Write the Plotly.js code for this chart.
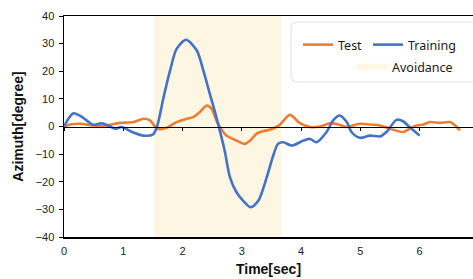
<!DOCTYPE html>
<html>
<head>
<meta charset="utf-8">
<script src="https://cdn.plot.ly/plotly-3.0.1.min.js"></script>
<style>html,body{margin:0;padding:0;background:#fff;}#chart{width:473px;height:279px;}</style>
</head>
<body>
<div id="chart"></div>
<script>
// ---- data ----
const trainingTime = [0, 0.08, 0.16, 0.3, 0.49, 0.64, 0.78, 0.86, 0.97, 1.15, 1.34, 1.5, 1.57, 1.68, 1.79, 1.9, 2.06, 2.24, 2.35, 2.46, 2.57, 2.71, 2.8, 2.91, 3.02, 3.15, 3.28, 3.42, 3.53, 3.61, 3.7, 3.84, 4.04, 4.15, 4.26, 4.43, 4.54, 4.65, 4.77, 4.85, 4.99, 5.16, 5.33, 5.44, 5.61, 5.72, 5.83, 6.0];
const trainingAzimuth = [0, 3, 4.8, 3.5, 0.6, 1.2, 0, -0.8, -0.2, -2, -3.3, -2.9, 0, 10.6, 20.3, 28.1, 31.4, 27.5, 20.3, 11.8, 3.4, -8.7, -18.4, -23.8, -26.8, -29.2, -26.8, -18.4, -10.5, -6.3, -5.7, -6.9, -5.1, -4.5, -5.7, -2, 2.2, 4, 1.6, -2, -4.1, -3.3, -3.6, -2, 2.4, 1.9, -0.2, -3.3];
const testTime = [0, 0.1, 0.27, 0.49, 0.72, 0.94, 1.17, 1.34, 1.45, 1.56, 1.62, 1.73, 1.9, 2.07, 2.18, 2.29, 2.41, 2.49, 2.57, 2.63, 2.74, 2.91, 3.05, 3.14, 3.25, 3.36, 3.47, 3.64, 3.81, 3.98, 4.15, 4.32, 4.49, 4.63, 4.77, 4.99, 5.16, 5.33, 5.5, 5.72, 5.83, 5.95, 6.06, 6.17, 6.34, 6.51, 6.6, 6.68];
const testAzimuth = [0, 0.7, 1, 0.4, 0.4, 1.3, 1.6, 2.8, 2.2, -0.6, -1.0, -0.5, 1.6, 2.8, 3.4, 5.2, 7.6, 6.4, 2.2, -0.2, -3.3, -5.1, -6.3, -5.1, -2.6, -1.7, -1.2, 0.6, 4.2, 1.2, -0.2, 0, 1.2, 0.7, -0.2, 1, 0.7, 0.4, -0.8, -2, -0.8, 0.4, 0.7, 1.6, 1.3, 1.6, 0.4, -1.4];
const avoidanceSpan = [1.52, 3.66];
const yRange = [-40, 40];
const xTicks = [0, 1, 2, 3, 4, 5, 6];
const seriesNames = ['Test', 'Training', 'Avoidance'];

const W = 473, H = 279;
const m = {l: 64, r: 0, t: 16, b: 42, autoexpand: false};
const pw = W - m.l - m.r, ph = H - m.t - m.b;
function px2x(px){ return (px - m.l) / pw; }
function py2y(py){ return (H - m.b - py) / ph; }

// rounded legend box path (paper coords)
const bx0 = px2x(291), bx1 = px2x(482), byT = py2y(22), byB = py2y(82);
const rx = 7 / pw, ry = 7 / ph;
const boxPath = `M${bx0+rx},${byT} L${bx1-rx},${byT} Q${bx1},${byT} ${bx1},${byT-ry} L${bx1},${byB+ry} Q${bx1},${byB} ${bx1-rx},${byB} L${bx0+rx},${byB} Q${bx0},${byB} ${bx0},${byB+ry} L${bx0},${byT-ry} Q${bx0},${byT} ${bx0+rx},${byT} Z`;

const font = "'Liberation Sans', Arial, sans-serif";
const lfont = "'Noto Sans', sans-serif";

const traces = [
  {
    x: [avoidanceSpan[0], avoidanceSpan[1], avoidanceSpan[1], avoidanceSpan[0], avoidanceSpan[0]],
    y: [yRange[0], yRange[0], yRange[1], yRange[1], yRange[0]],
    mode: 'none', fill: 'toself', fillcolor: '#FDF6E3',
    name: seriesNames[2], legend: 'legend2', hoverinfo: 'skip'
  },
  {
    x: testTime, y: testAzimuth, mode: 'lines', name: seriesNames[0],
    line: {color: '#ED7D31', width: 2.6, shape: 'spline', smoothing: 0.8}
  },
  {
    x: trainingTime, y: trainingAzimuth, mode: 'lines', name: seriesNames[1], legend: 'legend3',
    line: {color: '#4472C4', width: 2.6, shape: 'spline', smoothing: 0.8}
  },
  { x: [null], y: [null], xaxis: 'x2', showlegend: false, hoverinfo: 'skip' }
];

const legendBase = {
  orientation: 'h', xanchor: 'left', yanchor: 'top',
  bgcolor: 'rgba(0,0,0,0)', borderwidth: 0,
  font: {size: 12.5, color: '#1a1a1a', family: lfont}
};

const layout = {
  width: W, height: H,
  margin: m,
  paper_bgcolor: '#fff', plot_bgcolor: '#fff',
  font: {family: font, size: 11, color: '#222'},
  showlegend: true,
  xaxis: {
    range: [0, 6.9], tickvals: xTicks, ticktext: xTicks.map(String),
    showgrid: false, zeroline: false, showline: true, mirror: true,
    linecolor: '#000', linewidth: 1.5, ticks: '', ticklabelstandoff: 3,
    tickfont: {size: 11, color: '#222', family: font},
    title: {text: '<b>Time[sec]</b>', font: {size: 14, color: '#111', family: font}, standoff: 8}
  },
  xaxis2: {
    overlaying: 'x', matches: 'x', anchor: 'free', position: 0.5,
    tickvals: xTicks, showticklabels: false, ticks: 'outside', ticklen: 3,
    tickcolor: '#000', showline: true, linecolor: '#000', linewidth: 1.5,
    showgrid: false, zeroline: false
  },
  yaxis: {
    range: yRange, dtick: 10, showgrid: false, zeroline: false,
    showline: true, linecolor: '#000', linewidth: 1.5,
    ticks: 'outside', ticklen: 4, tickcolor: '#000', ticklabelstandoff: 2,
    tickfont: {size: 11, color: '#222', family: font},
    title: {text: '<b>Azimuth[degree]</b>', font: {size: 14, color: '#111', family: font}, standoff: 8}
  },
  legend: Object.assign({}, legendBase, {x: px2x(298), y: py2y(30)}),
  legend3: Object.assign({}, legendBase, {x: px2x(368), y: py2y(30)}),
  legend2: Object.assign({}, legendBase, {x: px2x(352), y: py2y(52)}),
  shapes: [
    {type: 'path', xref: 'paper', yref: 'paper', path: boxPath,
     line: {color: '#E4E4E4', width: 1.2}, fillcolor: '#fff', layer: 'below'}
  ]
};

Plotly.newPlot('chart', traces, layout, {staticPlot: true, displayModeBar: false});
</script>
</body>
</html>
